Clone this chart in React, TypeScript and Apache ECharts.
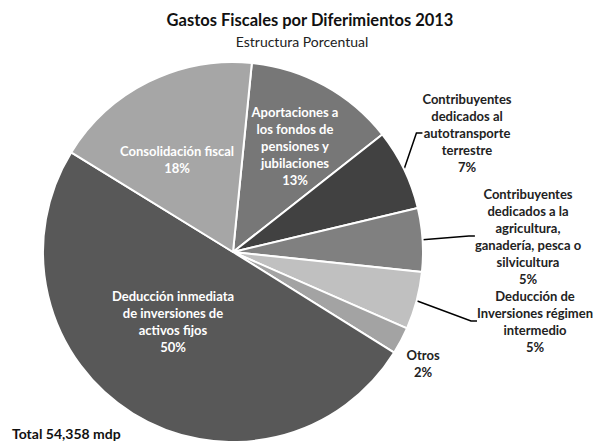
import React, { useEffect, useRef } from "react";
import * as echarts from "echarts";

const categories = [
  "Aportaciones a\nlos fondos de\npensiones y\njubilaciones",
  "Contribuyentes\ndedicados al\nautotransporte\nterrestre",
  "Contribuyentes\ndedicados a la\nagricultura,\nganadería, pesca o\nsilvicultura",
  "Deducción de\nInversiones régimen\nintermedio",
  "Otros",
  "Deducción inmediata\nde inversiones de\nactivos fijos",
  "Consolidación fiscal",
];
const shares = [12.8, 6.9, 5.4, 4.9, 2.3, 49.9, 17.8];
const colors = ["#777777", "#414141", "#808080", "#c0c0c0", "#a3a3a3", "#585858", "#a6a6a6"];
const insideLabels = [0, 5, 6];
const labelPos = [
  [295, 146],
  [467, 133],
  [528, 236],
  [535, 321],
  [423, 363],
  [173, 321],
  [177, 159],
];
const labelPad = [0, [0, 0, 34, 0], [0, 0, 23, 0], [8, 0, 0, 0], 0, 0, 0];

const FONT = "Lato, 'Open Sans', sans-serif";

export default function App() {
  const ref = useRef<HTMLDivElement>(null);
  useEffect(() => {
    const chart = echarts.init(ref.current!, null, { renderer: "svg" });
    const data = categories.map((name, i) => {
      const inside = insideLabels.includes(i);
      return {
        name,
        value: shares[i],
        itemStyle: { color: colors[i] },
        label: inside
          ? { position: "inside", color: "#ffffff" }
          : { position: "outside", color: "#222222", padding: labelPad[i] },
        labelLine: { show: !inside && i !== 4 },
      };
    });
    chart.setOption({
      animation: false,
      backgroundColor: "#ffffff",
      graphic: [
        {
          type: "text",
          x: 310,
          y: 20,
          style: {
            text: "Gastos Fiscales por Diferimientos 2013",
            fontFamily: FONT,
            fontWeight: "bold",
            fontSize: 16.5,
            fill: "#111111",
            align: "center",
            verticalAlign: "middle",
          },
        },
        {
          type: "text",
          x: 302,
          y: 41,
          style: {
            text: "Estructura Porcentual",
            fontFamily: FONT,
            fontSize: 14,
            fill: "#222222",
            align: "center",
            verticalAlign: "middle",
          },
        },
        {
          type: "text",
          x: 12,
          y: 433,
          style: {
            text: "Total 54,358 mdp",
            fontFamily: FONT,
            fontWeight: "bold",
            fontSize: 14,
            fill: "#111111",
            align: "left",
            verticalAlign: "middle",
          },
        },
      ],
      series: [
        {
          type: "pie",
          center: [233, 252],
          radius: [0, 190],
          startAngle: 84.3,
          clockwise: true,
          avoidLabelOverlap: false,
          percentPrecision: 0,
          itemStyle: { borderColor: "#ffffff", borderWidth: 2 },
          label: {
            show: true,
            formatter: "{b}\n{d}%",
            fontFamily: FONT,
            fontWeight: "bold",
            fontSize: 13,
            lineHeight: 17,
            align: "center",
          },
          labelLine: {
            show: true,
            length: 10,
            length2: 6,
            smooth: false,
            lineStyle: { color: "#000000", width: 1.5 },
          },
          labelLayout: (params: any) => {
            const p = labelPos[params.dataIndex];
            return { x: p[0], y: p[1], align: "center", verticalAlign: "middle" };
          },
          emphasis: { disabled: true },
          data,
        },
      ],
    });
    return () => chart.dispose();
  }, []);
  return (
    <div
      ref={ref}
      style={{ position: "fixed", left: 0, top: 0, width: 595, height: 441, background: "#fff" }}
    />
  );
}
